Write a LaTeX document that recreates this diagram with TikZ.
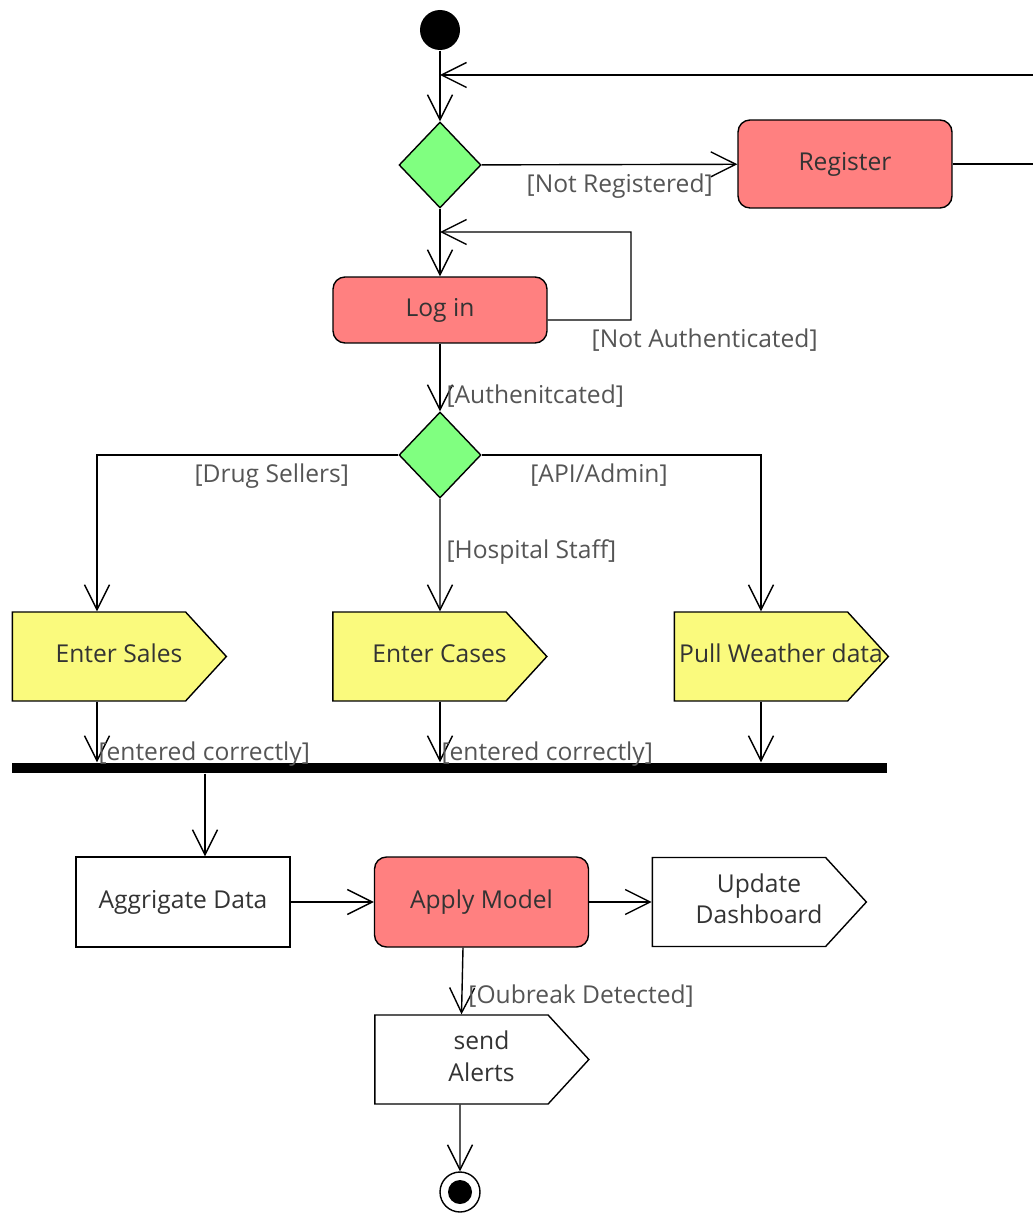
\documentclass[tikz,border=0pt]{standalone}
\usepackage{fontspec}
\setmainfont{Open Sans}
\usetikzlibrary{arrows.meta,shapes.geometric,shapes.symbols}
\definecolor{actred}{HTML}{FF8080}
\definecolor{decgreen}{HTML}{80FF80}
\definecolor{sigyellow}{HTML}{FAFA7D}
\definecolor{nodetext}{HTML}{333333}
\definecolor{guardgray}{HTML}{555555}
\newcommand{\sigtext}[1]{\hspace*{0.8cm}\makebox[0pt]{\raisebox{-0.12cm}[0pt][0pt]{\begin{tabular}{@{}c@{}}#1\end{tabular}}}}

\begin{document}
\begin{tikzpicture}[x=0.02cm, y=-0.02cm, thick,
	every node/.style={font=\fontsize{14}{18}\selectfont, text=nodetext},
	>={Straight Barb[length=5mm, width=5mm]},
	act/.style={draw, fill=actred, rounded corners=0.24cm, minimum width=4.28cm},
	box/.style={draw, fill=white, minimum width=4.28cm, minimum height=1.8cm},
	decide/.style={draw, diamond, fill=decgreen, minimum width=1.64cm, minimum height=1.72cm, inner sep=0},
	sendsig/.style={draw, signal, signal to=east, signal pointer angle=95, minimum width=4.28cm, minimum height=1.78cm},
	guard/.style={text=guardgray}]
	\useasboundingbox (0,0) rectangle (1033,1216);
	\node[circle, fill=black, minimum size=0.8cm] (start) at (440,30) {};
	\node[decide] (dec1) at (440,165) {};
	\node[act, minimum height=1.76cm] (register) at (845,164) {Register};
	\node[act, minimum height=1.32cm] (login) at (440,310) {Log in};
	\node[decide] (dec2) at (440,455) {};
	\node[sendsig, fill=sigyellow] (sales) at (99,656.5) {\sigtext{Enter Sales}};
	\node[sendsig, fill=sigyellow] (cases) at (419.5,656.5) {\sigtext{Enter Cases}};
	\node[sendsig, fill=sigyellow] (weather) at (761,656.5) {\sigtext{Pull Weather data}};
	\node[fill=black, minimum width=17.5cm, minimum height=0.2cm, inner sep=0] (join) at (449.5,768) {};
	\node[box] (aggr) at (183,902) {Aggrigate Data};
	\node[act, minimum height=1.8cm] (apply) at (481.5,902) {Apply Model};
	\node[sendsig] (dash) at (739,902) {\sigtext{Update\\Dashboard}};
	\node[sendsig] (alerts) at (461.5,1059.5) {\sigtext{send\\Alerts}};
	\node[circle, draw, minimum size=0.8cm, path picture={\fill (path picture bounding box.center) circle (0.24cm);}] (end) at (460,1192) {};
	\coordinate (regback) at (440,75);
	\coordinate (loginback) at (440,232);
	\coordinate (salesout) at ([xshift=-0.04cm]sales.south);
	\coordinate (casesout) at ([xshift=0.41cm]cases.south);
	\coordinate (weatherout) at (weather.south);
	\coordinate (aggrin) at ([xshift=0.44cm]aggr.north);
	\draw[->] (start) -- (dec1);
	\draw[->] (register.east) -- (1090,164) |- (regback);
	\draw[->] (dec1) -- node[guard, below, pos=0.54, yshift=-0.05cm] {[Not Registered]} (register);
	\draw[->] (dec1) -- (login);
	\draw[->] ([yshift=-0.2cm]login.east) -- node[guard, below right, pos=0.45, yshift=-0.04cm] {[Not Authenticated]} (631,320) |- (loginback);
	\draw[->] (login) -- node[guard, right, pos=0.78] {[Authenitcated]} (dec2);
	\draw[->] (dec2.west) -| node[guard, below, pos=0.21, yshift=-0.04cm] {[Drug Sellers]} ([xshift=-0.04cm]sales.north);
	\draw[->] (dec2) -- node[guard, right, pos=0.47] {[Hospital Staff]} ([xshift=0.41cm]cases.north);
	\draw[->] (dec2.east) -| node[guard, below, pos=0.21, yshift=-0.04cm] {[API/Admin]} (weather.north);
	\draw[->] (salesout) -- node[guard, right, pos=0.86, xshift=-0.1cm] {[entered correctly]} (salesout |- join.north);
	\draw[->] (casesout) -- node[guard, right, pos=0.86, xshift=-0.1cm] {[entered correctly]} (casesout |- join.north);
	\draw[->] (weatherout) -- (weatherout |- join.north);
	\draw[->] (join.south -| aggrin) -- (aggrin);
	\draw[->] (aggr) -- (apply);
	\draw[->] (apply) -- (dash);
	\draw[->] ([xshift=-0.37cm]apply.south) -- node[guard, right, pos=0.72] {[Oubreak Detected]} (alerts.north);
	\draw[->] ([xshift=-0.03cm]alerts.south) -- (end);
\end{tikzpicture}
\end{document}
